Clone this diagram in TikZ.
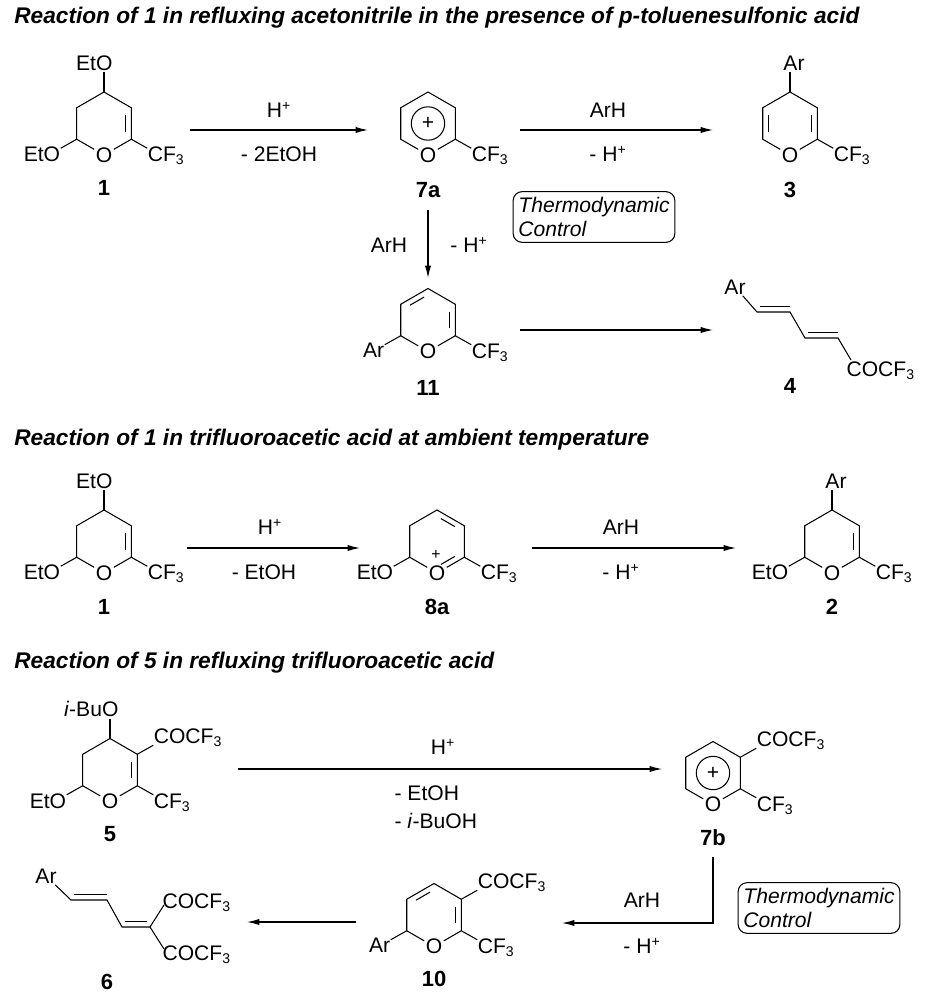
\documentclass[tikz,border=0pt]{standalone}
\usepackage{fontspec}
\setmainfont{Liberation Sans}
\usetikzlibrary{positioning,calc,arrows.meta}

\tikzset{
  atom/.style={inner sep=0.6pt, font=\fontsize{12}{14}\selectfont},
  cpd/.style={font=\fontsize{12.5}{14}\selectfont\bfseries},
  heading/.style={anchor=west, font=\fontsize{12.9}{15}\selectfont\bfseries\itshape},
  rxn/.style={-{Latex[length=7pt,width=3.5pt]}},
  ctrlbox/.style={draw, rounded corners=5pt, align=left, inner sep=3pt,
                  font=\fontsize{12}{14}\selectfont\itshape},
}
% ring: top, upper right, lower right, O, lower left, upper left
\newcommand\pyring[2]{%
  \coordinate (#1-0) at (#2);
  \foreach \k/\a in {1/270,2/330,3/30,4/90,5/150,6/210}
    {\coordinate (#1-\k) at ($(#2)+(\a:31.5)$);}
  \node[atom] (#1-O) at (#1-4) {O};
  \draw (#1-O) -- (#1-5) -- (#1-6) -- (#1-1) -- (#1-2) -- (#1-3) -- (#1-O);
}
\newcommand\inbond[3]{\draw ($(#1)!0.18!(#2)!0.2!(#3)$) -- ($(#2)!0.18!(#1)!0.2!(#3)$);}
\newcommand\CFt{CF\textsubscript{3}}
\newcommand\COCFt{COCF\textsubscript{3}}
\newcommand\Hp{H\textsuperscript{+}}

\begin{document}
\begin{tikzpicture}[x=0.02cm,y=-0.02cm,line width=0.6pt]
\useasboundingbox (0,0) rectangle (927,1000);

%% first scheme
\node[heading] (t1) at (8,18) {Reaction of 1 in refluxing acetonitrile in the presence of p-toluenesulfonic acid};

% 1
\pyring{a}{104,123.5}
\inbond{a-2}{a-3}{a-0}
\draw (a-1) -- ++(0,-20) coordinate (a-up);
\node[atom,anchor=south east] (a-oet) at ($(a-up)+(10,0)$) {EtO};
\draw (a-5) -- ++(-16,9) coordinate (a-dl);
\node[atom,anchor=north east] (a-oet2) at ($(a-dl)+(1,-3)$) {EtO};
\draw (a-3) -- ++(16,9) coordinate (a-dr);
\node[atom,anchor=north west] (a-cf) at ($(a-dr)+(-1,-3)$) {\CFt};
\node[cpd] (c1) at (104,188) {1};

\coordinate (r1s) at (190,130); \coordinate (r1e) at (368,130);
\draw[rxn] (r1s) -- (r1e);
\node[atom] (r1a) at (279,110) {\Hp};
\node[atom] (r1b) at (279,154) {- 2EtOH};

% 7a
\pyring{b}{428,123.5}
\draw (b-0) circle[radius=9.5pt];
\node[atom] (b-plus) at (b-0) {+};
\draw (b-3) -- ++(16,9) coordinate (b-dr);
\node[atom,anchor=north west] (b-cf) at ($(b-dr)+(-1,-3)$) {\CFt};
\node[cpd] (c7a) at (428,190) {7a};

\coordinate (r2s) at (520,130); \coordinate (r2e) at (713,130);
\draw[rxn] (r2s) -- (r2e);
\node[atom] (r2a) at (608,110) {ArH};
\node[atom] (r2b) at (608,154) {- \Hp};

% 3
\pyring{c}{790,123.5}
\inbond{c-2}{c-3}{c-0}
\inbond{c-5}{c-6}{c-0}
\draw (c-1) -- ++(0,-20) coordinate (c-up);
\node[atom,anchor=south] (c-ar) at ($(c-up)+(4,0)$) {Ar};
\draw (c-3) -- ++(16,9) coordinate (c-dr);
\node[atom,anchor=north west] (c-cf) at ($(c-dr)+(-1,-3)$) {\CFt};
\node[cpd] (c3) at (790,190) {3};

\node[ctrlbox] (td1) at (594,217) {Thermodynamic\\Control};

\coordinate (r3s) at (428,210); \coordinate (r3e) at (428,278);
\draw[rxn] (r3s) -- (r3e);
\node[atom] (r3a) at (389,245) {ArH};
\node[atom] (r3b) at (469,245) {- \Hp};

% 11
\pyring{d}{428,320}
\inbond{d-6}{d-1}{d-0}
\inbond{d-2}{d-3}{d-0}
\draw (d-5) -- ++(-16,9) coordinate (d-dl);
\node[atom,anchor=north east] (d-ar) at ($(d-dl)+(1,-3)$) {Ar};
\draw (d-3) -- ++(16,9) coordinate (d-dr);
\node[atom,anchor=north west] (d-cf) at ($(d-dr)+(-1,-3)$) {\CFt};
\node[cpd] (c11) at (428,388) {11};

\coordinate (r4s) at (520,330); \coordinate (r4e) at (713,330);
\draw[rxn] (r4s) -- (r4e);

% 4
\node[atom] (e-ar) at (735,287) {Ar};
\coordinate (e1) at (757,312); \coordinate (e2) at (790,312);
\coordinate (e3) at (805,338); \coordinate (e4) at (838,338);
\coordinate (e5) at (851,360);
\draw (e-ar) -- (e1) -- (e2) -- (e3) -- (e4) -- (e5);
\draw ($(e1)+(3,-5.5)$) -- ($(e2)+(0,-5.5)$);
\draw ($(e3)+(3,-5.5)$) -- ($(e4)+(0,-5.5)$);
\node[atom,anchor=north west] (e-co) at ($(e5)+(-6,0)$) {\COCFt};
\node[cpd] (c4) at (790,386) {4};

%% second scheme
\node[heading] (t2) at (8,440) {Reaction of 1 in trifluoroacetic acid at ambient temperature};

% 1
\pyring{f}{104,541.5}
\inbond{f-2}{f-3}{f-0}
\draw (f-1) -- ++(0,-20) coordinate (f-up);
\node[atom,anchor=south east] (f-oet) at ($(f-up)+(10,0)$) {EtO};
\draw (f-5) -- ++(-16,9) coordinate (f-dl);
\node[atom,anchor=north east] (f-oet2) at ($(f-dl)+(1,-3)$) {EtO};
\draw (f-3) -- ++(16,9) coordinate (f-dr);
\node[atom,anchor=north west] (f-cf) at ($(f-dr)+(-1,-3)$) {\CFt};
\node[cpd] (c1b) at (104,607) {1};

\coordinate (r5s) at (187,548); \coordinate (r5e) at (360,548);
\draw[rxn] (r5s) -- (r5e);
\node[atom] (r5a) at (270,527) {\Hp};
\node[atom] (r5b) at (264,572) {- EtOH};

% 8a
\pyring{g}{437,541.5}
\inbond{g-1}{g-2}{g-0}
\inbond{g-3}{g-4}{g-0}
\node[atom,font=\fontsize{9}{10}\selectfont] (g-plus) at ($(g-O)+(-1,-18)$) {+};
\draw (g-5) -- ++(-16,9) coordinate (g-dl);
\node[atom,anchor=north east] (g-oet) at ($(g-dl)+(1,-3)$) {EtO};
\draw (g-3) -- ++(16,9) coordinate (g-dr);
\node[atom,anchor=north west] (g-cf) at ($(g-dr)+(-1,-3)$) {\CFt};
\node[cpd] (c8a) at (437,607) {8a};

\coordinate (r6s) at (532,548); \coordinate (r6e) at (736,548);
\draw[rxn] (r6s) -- (r6e);
\node[atom] (r6a) at (621,527) {ArH};
\node[atom] (r6b) at (621,572) {- \Hp};

% 2
\pyring{h}{832,541.5}
\inbond{h-2}{h-3}{h-0}
\draw (h-1) -- ++(0,-20) coordinate (h-up);
\node[atom,anchor=south] (h-ar) at ($(h-up)+(4,0)$) {Ar};
\draw (h-5) -- ++(-16,9) coordinate (h-dl);
\node[atom,anchor=north east] (h-oet) at ($(h-dl)+(1,-3)$) {EtO};
\draw (h-3) -- ++(16,9) coordinate (h-dr);
\node[atom,anchor=north west] (h-cf) at ($(h-dr)+(-1,-3)$) {\CFt};
\node[cpd] (c2) at (832,607) {2};

%% third scheme
\node[heading] (t3) at (8,663) {Reaction of 5 in refluxing trifluoroacetic acid};

% 5
\pyring{k}{110,770}
\inbond{k-2}{k-3}{k-0}
\draw (k-1) -- ++(0,-20) coordinate (k-up);
\node[atom,anchor=south east] (k-ibu) at ($(k-up)+(10,0)$) {\textit{i}-BuO};
\draw (k-2) -- ++(16,-9) coordinate (k-ur);
\node[atom,anchor=south west] (k-co) at ($(k-ur)+(-1,3)$) {\COCFt};
\draw (k-5) -- ++(-16,9) coordinate (k-dl);
\node[atom,anchor=north east] (k-oet) at ($(k-dl)+(1,-3)$) {EtO};
\draw (k-3) -- ++(16,9) coordinate (k-dr);
\node[atom,anchor=north west] (k-cf) at ($(k-dr)+(-1,-3)$) {\CFt};
\node[cpd] (c5) at (110,834) {5};

\coordinate (r7s) at (238,769); \coordinate (r7e) at (662,769);
\draw[rxn] (r7s) -- (r7e);
\node[atom] (r7a) at (443,747) {\Hp};
\node[atom,anchor=west] (r7b) at (393,793) {- EtOH};
\node[atom,anchor=west] (r7c) at (393,821) {- \textit{i}-BuOH};

% 7b
\pyring{m}{713,773}
\draw (m-0) circle[radius=9.5pt];
\node[atom] (m-plus) at (m-0) {+};
\draw (m-2) -- ++(16,-9) coordinate (m-ur);
\node[atom,anchor=south west] (m-co) at ($(m-ur)+(-1,3)$) {\COCFt};
\draw (m-3) -- ++(16,9) coordinate (m-dr);
\node[atom,anchor=north west] (m-cf) at ($(m-dr)+(-1,-3)$) {\CFt};
\node[cpd] (c7b) at (713,838) {7b};

\coordinate (r8s) at (713,857); \coordinate (r8k) at (713,923);
\coordinate (r8e) at (562,923);
\draw[rxn] (r8s) -- (r8k) -- (r8e);
\node[atom] (r8a) at (642,900) {ArH};
\node[atom] (r8b) at (642,946) {- \Hp};
\node[ctrlbox] (td2) at (819,908) {Thermodynamic\\Control};

% 10
\pyring{n}{434,915}
\inbond{n-6}{n-1}{n-0}
\inbond{n-2}{n-3}{n-0}
\draw (n-2) -- ++(16,-9) coordinate (n-ur);
\node[atom,anchor=south west] (n-co) at ($(n-ur)+(-1,3)$) {\COCFt};
\draw (n-5) -- ++(-16,9) coordinate (n-dl);
\node[atom,anchor=north east] (n-ar) at ($(n-dl)+(1,-3)$) {Ar};
\draw (n-3) -- ++(16,9) coordinate (n-dr);
\node[atom,anchor=north west] (n-cf) at ($(n-dr)+(-1,-3)$) {\CFt};
\node[cpd] (c10) at (434,979) {10};

\coordinate (r9s) at (356,922); \coordinate (r9e) at (247,922);
\draw[rxn] (r9s) -- (r9e);

% 6
\node[atom] (p-ar) at (46,876) {Ar};
\coordinate (p1) at (71,900); \coordinate (p2) at (107,900);
\coordinate (p3) at (122,927); \coordinate (p4) at (150,927);
\draw (p-ar) -- (p1) -- (p2) -- (p3) -- (p4);
\draw ($(p1)+(3,-5.5)$) -- ($(p2)+(0,-5.5)$);
\draw ($(p3)+(3,-5.5)$) -- ($(p4)+(-3,-5.5)$);
\draw (p4) -- ++(14,-22) coordinate (p-up);
\draw (p4) -- ++(14,22) coordinate (p-dn);
\node[atom,anchor=west] (p-co1) at ($(p-up)+(-3,-2)$) {\COCFt};
\node[atom,anchor=west] (p-co2) at ($(p-dn)+(-3,6)$) {\COCFt};
\node[cpd] (c6) at (107,982) {6};
\end{tikzpicture}
\end{document}
